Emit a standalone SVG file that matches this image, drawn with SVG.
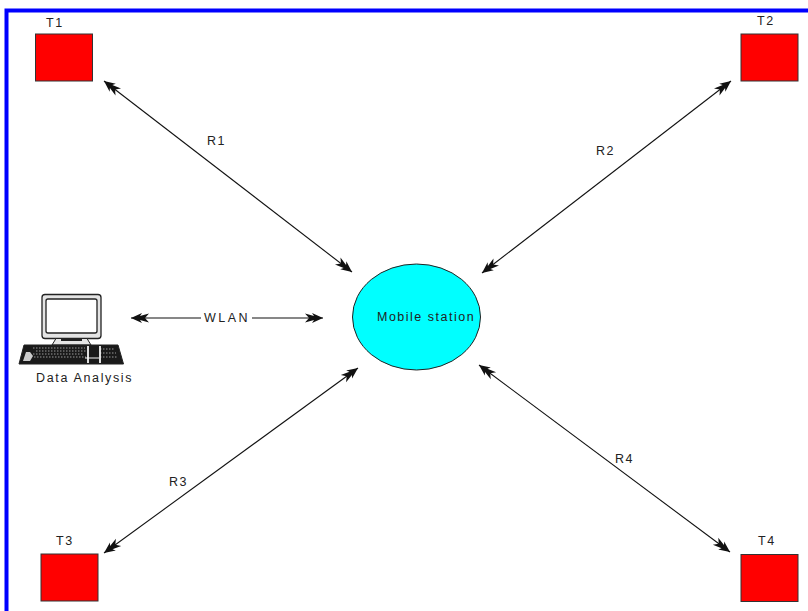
<svg xmlns="http://www.w3.org/2000/svg" width="808" height="611" viewBox="0 0 808 611">
<style>
.t{font-family:"Liberation Sans",Arial,sans-serif;font-size:12.500px;letter-spacing:1.500px;fill:#222}
.sq{fill:#ff0000;stroke:#333;stroke-width:1}
.c{stroke:#111;stroke-width:1.100;fill:none}
.b{marker-start:url(#a);marker-end:url(#a)}
</style>
<defs>
<marker id="a" viewBox="0 0 18 12" refX="18" refY="6" markerWidth="18" markerHeight="12" markerUnits="userSpaceOnUse" orient="auto-start-reverse">
<path d="M18 6L7 1L9 4L0 1.500L4 6L0 10.500L9 8L7 11Z" fill="#111"/>
</marker>
</defs>
<rect id="frame" x="6.500" y="10.500" width="830" height="640" fill="#fff" stroke="#0000ff" stroke-width="4"/>
<g id="connectors">
<path class="c b" d="M104 81L352 272"/>
<path class="c b" d="M731 81L482 273"/>
<path class="c b" d="M104 553L358 368"/>
<path class="c b" d="M479 365L730 552"/>
<path class="c" style="marker-start:url(#a)" d="M131 318H201"/>
<path class="c" style="marker-end:url(#a)" d="M252 318H323"/>
</g>
<g id="t1"><rect class="sq" x="35.500" y="34" width="57" height="47"/><text class="t" x="46" y="27">T1</text></g>
<g id="t2"><rect class="sq" x="741" y="34" width="57" height="47"/><text class="t" x="757" y="25">T2</text></g>
<g id="t3"><rect class="sq" x="41" y="554" width="57" height="47"/><text class="t" x="56" y="545">T3</text></g>
<g id="t4"><rect class="sq" x="741" y="554.500" width="57" height="47"/><text class="t" x="758" y="545">T4</text></g>
<g id="mobile"><ellipse cx="416.500" cy="317" rx="64" ry="53" fill="#00ffff" stroke="#222" stroke-width="1"/><text class="t" x="377" y="321">Mobile station</text></g>
<g id="pc">
<rect x="42" y="294.500" width="59" height="44" rx="3" fill="#e4e4e4" stroke="#222" stroke-width="1.300"/>
<rect x="46" y="299" width="51" height="34" rx="2" fill="#fff" stroke="#222" stroke-width="1.300"/>
<path d="M52 345L56 338.500H87L91 345Z" fill="#e4e4e4" stroke="#222" stroke-width="1"/>
<path d="M61 338H82V341H61Z" fill="#222"/>
<path d="M24 345H118L123.500 364H19Z" fill="#1a1a1a" stroke="#222" stroke-width="1"/>
<path d="M26 352L23 361H30L33 356L30 352Z" fill="#ccc"/>
<path d="M33 348H85M36 351H86M33 354H84M34 357H86M100 349H115M100 353H116M100 357H117" stroke="#bbb" stroke-width="0.800" stroke-dasharray="1.500 1.500" fill="none"/>
<path d="M88 346V363M100 346V363" stroke="#f4f4f4" stroke-width="1.800"/>
<path d="M85 358H99" stroke="#f4f4f4" stroke-width="1"/>
<text class="t" x="36" y="382" style="letter-spacing:1.650px">Data Analysis</text>
</g>
<text class="t" x="204" y="322" style="letter-spacing:2.500px">WLAN</text>
<text class="t" x="207" y="145">R1</text>
<text class="t" x="596" y="155">R2</text>
<text class="t" x="169" y="486">R3</text>
<text class="t" x="615" y="463">R4</text>
</svg>
